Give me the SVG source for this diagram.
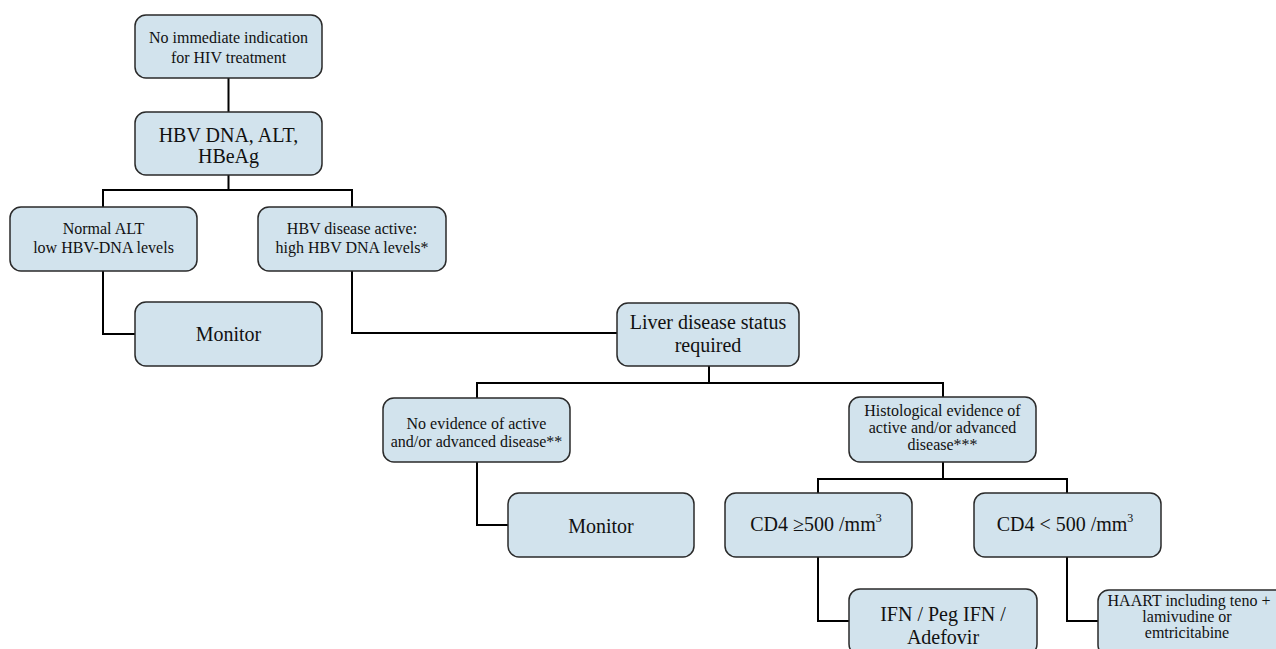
<svg xmlns="http://www.w3.org/2000/svg" width="1276" height="649" viewBox="0 0 1276 649">
<style>
.box{fill:#d2e3ed;stroke:#2a2a2a;stroke-width:1.5}
text{font-family:"Liberation Serif","Times New Roman",serif;fill:#111;text-anchor:middle}
.s16{font-size:16px}
.s20{font-size:20px}
.c{fill:none;stroke:#000;stroke-width:2}
</style>
<rect width="1276" height="649" fill="#fff"/>
<g id="connectors">
<path class="c" d="M228.5,78V112"/>
<path class="c" d="M228.5,175V190M103,207V190H352V207"/>
<path class="c" d="M103,271V334H135"/>
<path class="c" d="M352,271V333H617"/>
<path class="c" d="M709,366V383M477,398V383H943V397"/>
<path class="c" d="M477,462V525H508"/>
<path class="c" d="M943,462V479M818,493V479H1067V493"/>
<path class="c" d="M818,557V621H849"/>
<path class="c" d="M1067,557V621H1098"/>
</g>
<g id="n1"><rect class="box" x="135" y="15" width="187" height="63" rx="11"/>
<text class="s16" x="228.5" y="43">No immediate indication</text><text class="s16" x="228.5" y="63">for HIV treatment</text></g>
<g id="n2"><rect class="box" x="135" y="112" width="187" height="63" rx="11"/>
<text class="s20" x="228.5" y="142">HBV DNA, ALT,</text><text class="s20" x="228.5" y="163">HBeAg</text></g>
<g id="n3"><rect class="box" x="10" y="207" width="187" height="64" rx="11"/>
<text class="s16" x="103.5" y="234">Normal ALT</text><text class="s16" x="103.5" y="253">low HBV-DNA levels</text></g>
<g id="n4"><rect class="box" x="258" y="207" width="188" height="64" rx="11"/>
<text class="s16" x="352" y="234">HBV disease active:</text><text class="s16" x="352" y="253">high HBV DNA levels*</text></g>
<g id="n5"><rect class="box" x="135" y="302" width="187" height="64" rx="11"/>
<text class="s20" x="228.5" y="341">Monitor</text></g>
<g id="n6"><rect class="box" x="617" y="303" width="182" height="63" rx="11"/>
<text class="s20" x="708" y="329">Liver disease status</text><text class="s20" x="708" y="352">required</text></g>
<g id="n7"><rect class="box" x="383" y="398" width="187" height="64" rx="11"/>
<text class="s16" x="476.5" y="429">No evidence of active</text><text class="s16" x="476.5" y="447">and/or advanced disease**</text></g>
<g id="n8"><rect class="box" x="849" y="397" width="187" height="65" rx="11"/>
<text class="s16" x="942.5" y="416">Histological evidence of</text><text class="s16" x="942.5" y="433">active and/or advanced</text><text class="s16" x="942.5" y="450">disease***</text></g>
<g id="n9"><rect class="box" x="508" y="493" width="186" height="64" rx="11"/>
<text class="s20" x="601" y="533">Monitor</text></g>
<g id="n10"><rect class="box" x="725" y="493" width="187" height="64" rx="11"/>
<text class="s20" x="816" y="531">CD4 ≥500 /mm<tspan font-size="12" dy="-9">3</tspan></text></g>
<g id="n11"><rect class="box" x="974" y="493" width="187" height="64" rx="11"/>
<text class="s20" x="1065" y="531">CD4 &lt; 500 /mm<tspan font-size="12" dy="-9">3</tspan></text></g>
<g id="n12"><rect class="box" x="849" y="589" width="188" height="66" rx="11"/>
<text class="s20" x="943" y="621">IFN / Peg IFN /</text><text class="s20" x="943" y="644">Adefovir</text></g>
<g id="n13"><rect class="box" x="1098" y="590" width="188" height="66" rx="11"/>
<text class="s16" x="1189" y="606">HAART including teno +</text><text class="s16" x="1187" y="622">lamivudine or</text><text class="s16" x="1187" y="638">emtricitabine</text></g>
</svg>
